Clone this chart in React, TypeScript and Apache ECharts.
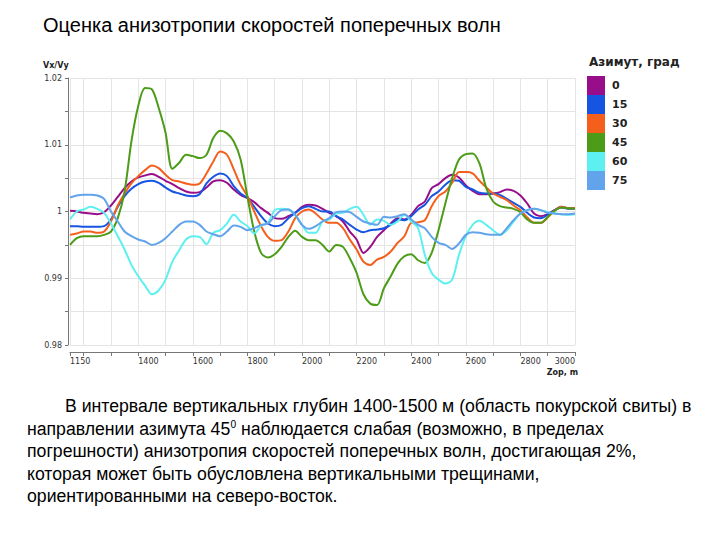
import React, { useEffect, useRef } from 'react';
import * as echarts from 'echarts';

const depth = [
  1150, 1175, 1200, 1225, 1250, 1275, 1300, 1325, 1350, 1375, 1400, 1425, 1450, 1475, 1500,
  1525, 1550, 1575, 1600, 1625, 1650, 1675, 1700, 1725, 1750, 1775, 1800, 1825, 1850, 1875,
  1900, 1925, 1950, 1975, 2000, 2025, 2050, 2075, 2100, 2125, 2150, 2175, 2200, 2225, 2250,
  2275, 2300, 2325, 2350, 2375, 2400, 2425, 2450, 2475, 2500, 2525, 2550, 2575, 2600, 2625,
  2650, 2675, 2700, 2725, 2750, 2775, 2800, 2825, 2850, 2875, 2900, 2925, 2950, 2975, 3000,
];

const az0 = [
  1.0001, 1.0, 0.9998, 0.9997, 0.9996, 0.9999, 1.0009, 1.0022, 1.0035, 1.0045, 1.0051, 1.0054, 1.0056, 1.0052, 1.0046,
  1.0041, 1.0035, 1.003, 1.0028, 1.0029, 1.0036, 1.0045, 1.0047, 1.0043, 1.0033, 1.0025, 1.002, 1.0014, 1.0005, 0.9998,
  0.999, 0.9989, 0.9993, 0.9998, 1.0007, 1.001, 1.0009, 1.0004, 0.9998, 0.9993, 0.9985, 0.997, 0.9958, 0.9938, 0.9947,
  0.9962, 0.9972, 0.9982, 0.999, 0.9988, 0.9995, 1.0008, 1.0015, 1.0035, 1.0041, 1.005, 1.0055, 1.0051, 1.0039, 1.0031,
  1.0026, 1.0026, 1.0027, 1.0029, 1.0033, 1.0031, 1.0024, 1.0012, 0.9997, 0.9993, 0.9996, 1.0002, 1.0007, 1.0005, 1.0005,
];

const az15 = [
  0.9978, 0.9978, 0.9977, 0.9977, 0.9977, 0.9978, 0.9988, 1.0007, 1.0023, 1.0034, 1.0041, 1.0045, 1.0046, 1.0043, 1.0036,
  1.003, 1.0027, 1.0024, 1.0023, 1.0026, 1.0042, 1.0052, 1.0057, 1.0053, 1.0038, 1.0027, 1.002, 1.0007, 0.9993, 0.9982,
  0.9978, 0.998, 0.999, 0.9998, 1.0005, 1.0008, 1.0004, 1.0, 1.0, 0.9993, 0.9988, 0.998, 0.9973, 0.9969, 0.9972,
  0.9973, 0.9975, 0.998, 0.9988, 0.9987, 0.9993, 1.0003, 1.001, 1.0023, 1.003, 1.004, 1.0047, 1.0046, 1.0037, 1.0033,
  1.0028, 1.0027, 1.0027, 1.0025, 1.0019, 1.0013, 1.0007, 0.9998, 0.9991, 0.999, 0.9995, 1.0002, 1.0006, 1.0004, 1.0004,
];

const az30 = [
  0.9965, 0.9967, 0.997, 0.997, 0.9968, 0.997, 0.9985, 1.0009, 1.0027, 1.0042, 1.0053, 1.0062, 1.0069, 1.0065, 1.0055,
  1.0047, 1.0045, 1.0042, 1.004, 1.0042, 1.0057, 1.0075, 1.009, 1.0085, 1.0063, 1.004, 1.0023, 1.0, 0.9978, 0.9962,
  0.9956, 0.9957, 0.997, 0.999, 1.0, 1.0003, 0.9997, 0.9988, 0.9983, 0.9983, 0.9975, 0.9958, 0.9943, 0.9925, 0.992,
  0.9928, 0.9932, 0.994, 0.9953, 0.9963, 0.9983, 0.9984, 0.9987, 1.0008, 1.0023, 1.003, 1.0043, 1.0059, 1.0059, 1.0057,
  1.0046, 1.0036, 1.0027, 1.0022, 1.0017, 1.0009, 1.0002, 0.9991, 0.9983, 0.9983, 0.9991, 1.0001, 1.0007, 1.0005, 1.0005,
];

const az45 = [
  0.995, 0.996, 0.9963, 0.9963, 0.9963, 0.9965, 0.997, 0.999, 1.003, 1.0105, 1.0158, 1.0185, 1.0183, 1.0155, 1.0118,
  1.0064, 1.0073, 1.0085, 1.0083, 1.008, 1.0085, 1.011, 1.0121, 1.0117, 1.0105, 1.0078, 1.0022, 0.997, 0.9938, 0.9931,
  0.9936, 0.9947, 0.9962, 0.9971, 0.9962, 0.9957, 0.9957, 0.995, 0.994, 0.995, 0.9947, 0.993, 0.9908, 0.9876, 0.9862,
  0.986, 0.9885, 0.9903, 0.9922, 0.9933, 0.9936, 0.9927, 0.9923, 0.9938, 0.9972, 1.0012, 1.005, 1.0078, 1.0086, 1.0087,
  1.0072, 1.0035, 1.0015, 1.0008, 1.0006, 1.0004, 0.9999, 0.9988, 0.9983, 0.9983, 0.9992, 1.0001, 1.0006, 1.0005, 1.0004,
];

const az60 = [
  0.9988, 1.0, 1.0003, 1.0007, 1.0004, 0.9998, 0.9982, 0.9963, 0.9943, 0.992, 0.9903, 0.9889, 0.9876, 0.9882, 0.9898,
  0.9925, 0.9942, 0.9958, 0.9963, 0.9962, 0.9951, 0.9968, 0.9972, 0.9982, 0.9995, 0.9985, 0.9978, 0.9967, 0.9979, 0.9983,
  1.0002, 1.0004, 1.0003, 0.9995, 0.998, 0.9968, 0.9968, 0.9985, 0.9988, 0.9997, 0.9998, 1.0004, 1.0007, 0.9995, 0.998,
  0.9988, 0.9986, 0.998, 0.9985, 0.9995, 0.9985, 0.9975, 0.9935, 0.9908, 0.9898, 0.9892, 0.9898, 0.9935, 0.9963, 0.998,
  0.9986, 0.998, 0.9972, 0.9965, 0.9972, 0.9985, 0.9997, 1.0002, 1.0004, 1.0002, 0.9999, 0.9997, 0.9996, 0.9995, 0.9996,
];

const az75 = [
  1.0021, 1.0024, 1.0025, 1.0025, 1.0024, 1.0019, 1.0, 0.9985, 0.997, 0.9963, 0.9958, 0.9955, 0.995, 0.9953, 0.996,
  0.997, 0.998, 0.9985, 0.9985, 0.998, 0.997, 0.9966, 0.9963, 0.997, 0.9979, 0.9977, 0.9972, 0.9975, 0.998, 0.9982,
  0.9993, 1.0002, 1.0003, 0.9995, 0.998, 0.9974, 0.9978, 0.9985, 0.999, 0.9999, 1.0, 0.9999, 0.9992, 0.9985, 0.9982,
  0.998, 0.9992, 0.9991, 0.9993, 0.9996, 0.9988, 0.998, 0.9975, 0.9962, 0.9953, 0.995, 0.9944, 0.9952, 0.9965, 0.9969,
  0.9968, 0.9966, 0.9965, 0.9965, 0.9975, 0.9987, 0.9997, 1.0002, 1.0004, 1.0002, 0.9998, 0.9997, 0.9996, 0.9996, 0.9997,
];

const azimuthNames = ['0', '15', '30', '45', '60', '75'];
const azimuthSeries = [az0, az15, az30, az45, az60, az75];
const azimuthColors = ['#980e8a', '#1654e2', '#f55f1c', '#4c9c18', '#5ef0f0', '#62a4ec'];

const xLabelValues = [1150, 1400, 1600, 1800, 2000, 2200, 2400, 2600, 2800, 3000];
const yLabelValues = [0.98, 0.99, 1, 1.01, 1.02];

const titleText = 'Оценка анизотропии скоростей поперечных волн';
const legendTitle = 'Азимут, град';
const paragraph = [
  'В интервале вертикальных глубин 1400-1500 м (область покурской свиты) в',
  'направлении азимута 45{sup|0} наблюдается слабая (возможно, в пределах',
  'погрешности) анизотропия скоростей поперечных волн, достигающая 2%,',
  'которая может быть обусловлена вертикальными трещинами,',
  'ориентированными на северо-восток.',
];

export default function App() {
  const ref = useRef<HTMLDivElement>(null);

  useEffect(() => {
    if (!ref.current) return;
    const chart = echarts.init(ref.current, null, { renderer: 'svg' });
    const paraFont = '"Liberation Sans", Arial, sans-serif';
    const paraLines = paragraph.map((t, i) => ({
      type: 'text',
      x: i === 0 ? 65 : 27,
      y: [405, 428, 450, 473, 495][i],
      scaleX: 0.93,
      style: {
        text: t,
        fontSize: 19,
        fontFamily: paraFont,
        fill: '#000',
        verticalAlign: 'middle',
        rich: {
          sup: { fontSize: 11, fontFamily: paraFont, verticalAlign: 'top', padding: [0, 0, 8, 0] },
        },
      },
    }));

    chart.setOption({
      animation: false,
      backgroundColor: '#ffffff',
      grid: { left: 70, right: 145, top: 78, bottom: 195 },
      xAxis: {
        type: 'value',
        min: 1150,
        max: 3000,
        splitNumber: 18,
        offset: 7,
        axisLine: { show: true, lineStyle: { color: '#777', width: 1 } },
        axisTick: { show: true, length: 4, lineStyle: { color: '#777' } },
        axisLabel: {
          show: true,
          showMinLabel: true,
          showMaxLabel: true,
          fontSize: 8,
          fontFamily: 'DejaVu Sans',
          color: '#333',
          margin: 5,
          align: 'left',
          alignMaxLabel: 'right',
          formatter: (v: number) => {
            const r = Math.round(v);
            return xLabelValues.indexOf(r) >= 0 ? String(r) : '';
          },
        },
        splitLine: { show: true, lineStyle: { color: '#e4e4e4', width: 1 } },
      },
      yAxis: {
        type: 'value',
        min: 0.98,
        max: 1.02,
        interval: 0.005,
        offset: 2,
        axisLine: { show: true, lineStyle: { color: '#777', width: 1 } },
        axisTick: { show: true, length: 3, lineStyle: { color: '#777' } },
        axisLabel: {
          fontSize: 8,
          fontFamily: 'DejaVu Sans',
          color: '#333',
          margin: 6,
          formatter: (v: number) => {
            const r = Math.round(v * 1000) / 1000;
            const found = yLabelValues.find((y) => Math.abs(y - r) < 1e-6);
            return found !== undefined ? String(found) : '';
          },
        },
        splitLine: { show: true, lineStyle: { color: '#e4e4e4', width: 1 } },
      },
      legend: {
        show: true,
        data: azimuthNames,
        orient: 'vertical',
        left: 587,
        top: 76,
        itemWidth: 18,
        itemHeight: 19,
        itemGap: 0,
        icon: 'rect',
        selectedMode: false,
        padding: 0,
        textStyle: { fontSize: 11, fontWeight: 'bold', fontFamily: 'DejaVu Sans', color: '#222', padding: [0, 0, 0, 2] },
      },
      series: azimuthSeries.map((vals, i) => ({
        name: azimuthNames[i],
        type: 'line',
        data: depth.map((d, j) => [d, vals[j]]),
        showSymbol: false,
        smooth: 0.3,
        color: azimuthColors[i],
        lineStyle: { width: 2, color: azimuthColors[i] },
      })),
      graphic: [
        {
          type: 'text',
          x: 43,
          y: 25,
          style: { text: titleText, fontSize: 20, fontFamily: '"Liberation Sans", Arial, sans-serif', fill: '#000', verticalAlign: 'middle' },
        },
        {
          type: 'text',
          x: 589,
          y: 62,
          style: { text: legendTitle, fontSize: 12, fontWeight: 'bold', fontFamily: 'DejaVu Sans', fill: '#222', verticalAlign: 'middle' },
        },
        {
          type: 'text',
          x: 43,
          y: 65,
          style: { text: 'Vx/Vy', fontSize: 8, fontWeight: 'bold', fontFamily: 'DejaVu Sans', fill: '#222', verticalAlign: 'middle' },
        },
        {
          type: 'text',
          x: 578,
          y: 372,
          style: { text: 'Zop, m', fontSize: 8, fontWeight: 'bold', fontFamily: 'DejaVu Sans', fill: '#222', verticalAlign: 'middle', align: 'right' },
        },
        ...paraLines,
      ],
    });
    return () => chart.dispose();
  }, []);

  return (
    <div
      ref={ref}
      style={{ position: 'fixed', left: 0, top: 0, width: 720, height: 540, background: '#fff' }}
    />
  );
}
